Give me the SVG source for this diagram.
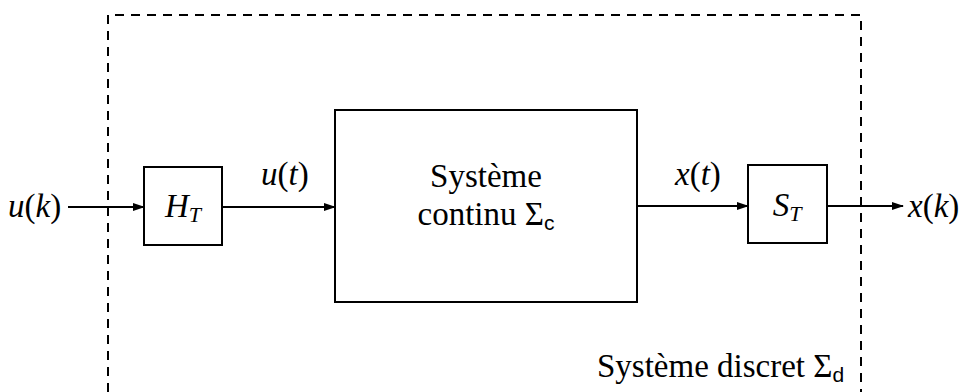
<svg xmlns="http://www.w3.org/2000/svg" width="966" height="392" viewBox="0 0 966 392">
<style>
.box{fill:#fff;stroke:#000;stroke-width:2}
.wire{fill:none;stroke:#000;stroke-width:2}
.dash{fill:none;stroke:#000;stroke-width:2;stroke-dasharray:9,7}
.t{font-family:'Liberation Serif','DejaVu Serif',serif;font-size:33px;fill:#000}
.m{font-style:italic}
.sub{font-size:22px}
.ss{font-family:'Liberation Sans','DejaVu Sans',sans-serif;font-size:21px}
</style>
<defs>
<marker id="ah" markerWidth="12" markerHeight="8" refX="11" refY="4" orient="auto" markerUnits="userSpaceOnUse">
<path d="M0,0 L12,4 L0,8 Z" fill="#000"/>
</marker>
</defs>
<path class="dash" d="M108,392 L108,15 L861,15 L861,392"/>
<g id="connectors">
<line class="wire" x1="68" y1="207" x2="144" y2="207" marker-end="url(#ah)"/>
<line class="wire" x1="222" y1="207" x2="335" y2="207" marker-end="url(#ah)"/>
<line class="wire" x1="637" y1="206" x2="748" y2="206" marker-end="url(#ah)"/>
<line class="wire" x1="827" y1="206" x2="903" y2="206" marker-end="url(#ah)"/>
</g>
<g id="HT">
<rect class="box" x="144" y="167" width="78" height="78"/>
<text class="t" x="183" y="217" text-anchor="middle"><tspan class="m">H</tspan><tspan class="m sub" dy="5">T</tspan></text>
</g>
<g id="sys">
<rect class="box" x="335" y="110" width="302" height="192"/>
<text class="t" x="486" y="187" text-anchor="middle">Système</text>
<text class="t" x="486" y="225" text-anchor="middle">continu Σ<tspan class="ss" dy="5">c</tspan></text>
</g>
<g id="ST">
<rect class="box" x="748" y="165" width="79" height="78"/>
<text class="t" x="787" y="216" text-anchor="middle"><tspan class="m">S</tspan><tspan class="m sub" dy="5">T</tspan></text>
</g>
<g id="labels">
<text class="t" x="8" y="217"><tspan class="m">u</tspan>(<tspan class="m">k</tspan>)</text>
<text class="t" x="261" y="185"><tspan class="m">u</tspan>(<tspan class="m">t</tspan>)</text>
<text class="t" x="675" y="185"><tspan class="m">x</tspan>(<tspan class="m">t</tspan>)</text>
<text class="t" x="908" y="217"><tspan class="m">x</tspan>(<tspan class="m">k</tspan>)</text>
<text class="t" x="597" y="377">Système discret Σ<tspan class="ss" dy="5">d</tspan></text>
</g>
</svg>
